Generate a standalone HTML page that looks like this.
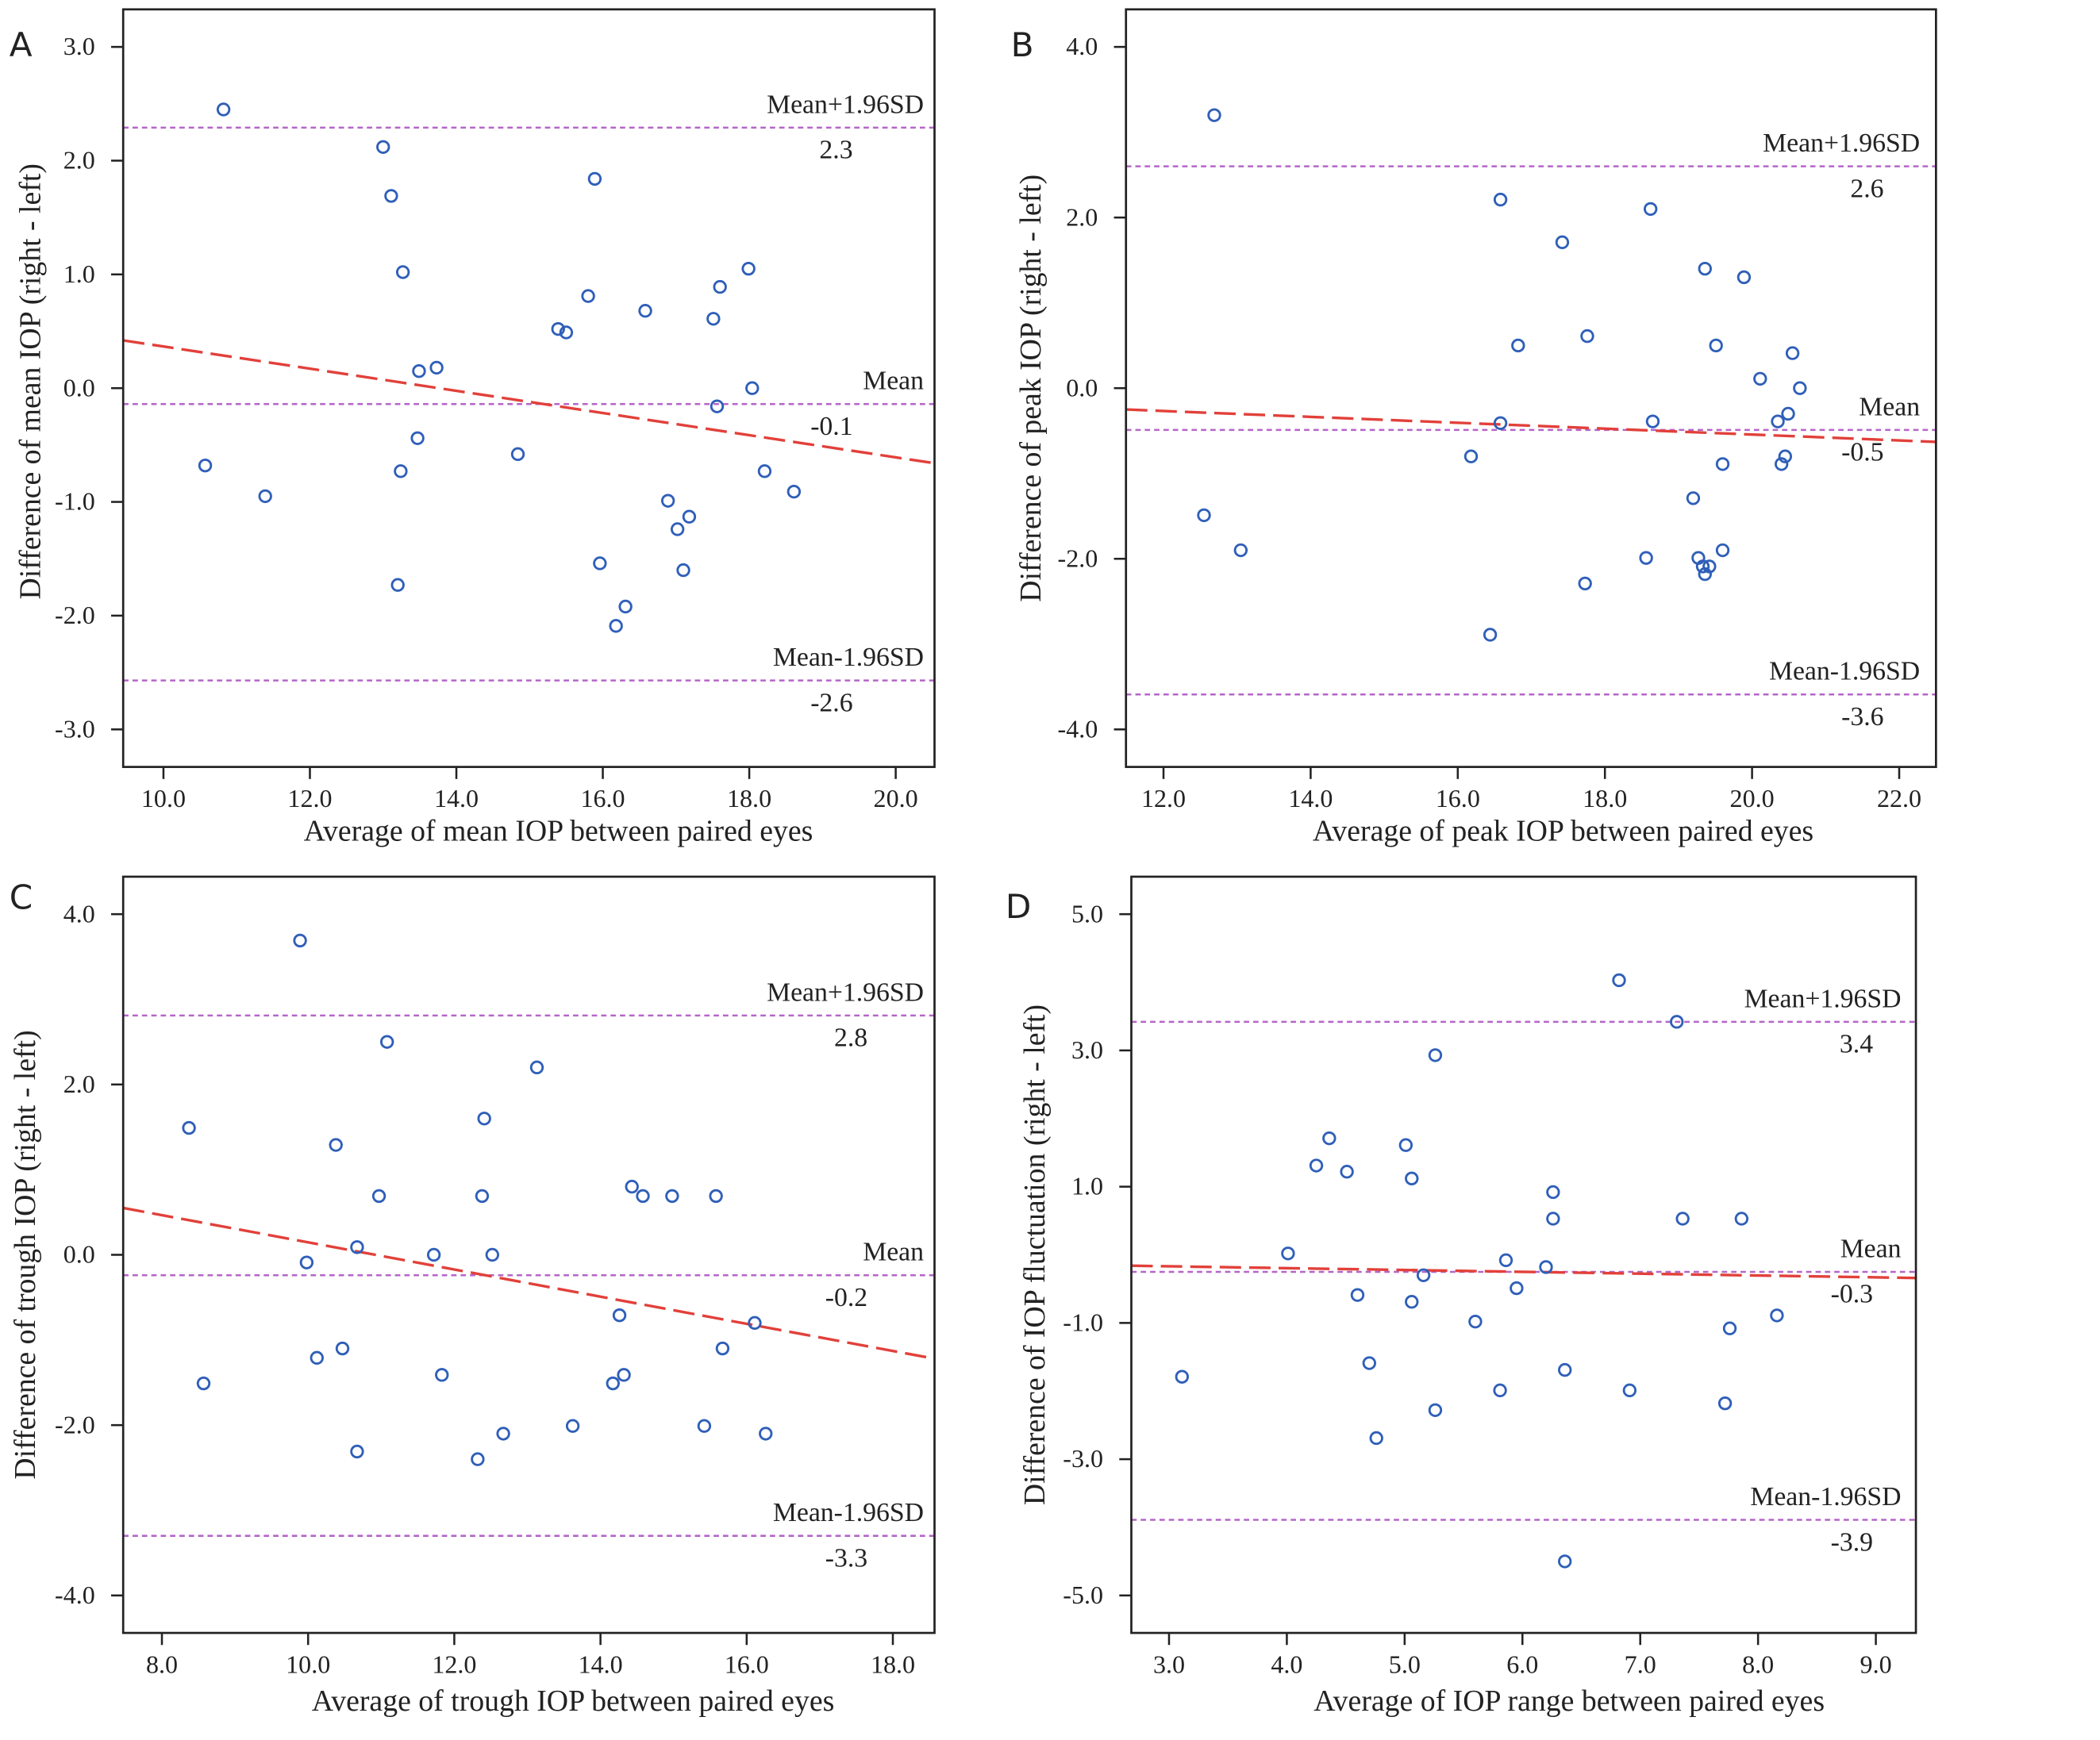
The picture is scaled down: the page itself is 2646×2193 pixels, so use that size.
<!DOCTYPE html>
<html><head><meta charset="utf-8"><style>
html,body{margin:0;padding:0;background:#fff;}
svg{display:block;}
text{font-family:"Liberation Serif",serif;fill:#222;}
text.letter{font-family:"DejaVu Sans","Liberation Sans",sans-serif;}
</style></head><body>
<svg id="chart" xmlns="http://www.w3.org/2000/svg" width="2646" height="2193" viewBox="0 0 1568.5 1300" preserveAspectRatio="none"></svg>
<script>
// Panel A data
const aX = [10.82,13.0,13.11,13.27,13.49,13.73,13.47,13.24,13.2,10.57,11.39,14.84,15.39,15.5,15.8,15.89,16.58,15.96,16.18,16.31,16.89,17.02,17.18,17.1,17.51,17.6,17.56,17.99,18.04,18.21,18.61];
const aY = [2.45,2.12,1.69,1.02,0.15,0.18,-0.44,-0.73,-1.73,-0.68,-0.95,-0.58,0.52,0.49,0.81,1.84,0.68,-1.54,-2.09,-1.92,-0.99,-1.24,-1.13,-1.6,0.61,0.89,-0.16,1.05,0.0,-0.73,-0.91];
const aLimits = [2.29,-0.14,-2.57];
const aLimitLabels = ["2.3","-0.1","-2.6"];
const aReg = [0.42,-0.66];
const aXTicks = [10,12,14,16,18,20];
const aYTicks = [3,2,1,0,-1,-2,-3];
// Panel B data
const bX = [12.69,12.55,13.05,16.44,16.18,16.58,16.58,16.82,17.42,17.76,17.73,18.62,18.65,18.56,19.36,19.2,19.27,19.33,19.36,19.42,19.51,19.6,19.6,19.89,20.11,20.35,20.4,20.45,20.49,20.55,20.65];
const bY = [3.2,-1.49,-1.9,-2.89,-0.8,2.21,-0.41,0.5,1.71,0.61,-2.29,2.1,-0.39,-1.99,1.4,-1.29,-1.99,-2.09,-2.18,-2.09,0.5,-0.89,-1.9,1.3,0.11,-0.39,-0.89,-0.8,-0.3,0.41,0.0];
const bLimits = [2.6,-0.49,-3.59];
const bLimitLabels = ["2.6","-0.5","-3.6"];
const bReg = [-0.25,-0.63];
const bXTicks = [12,14,16,18,20,22];
const bYTicks = [4,2,0,-2,-4];
// Panel C data
const cX = [9.89,8.37,8.57,9.98,10.12,10.38,10.47,10.67,10.67,10.97,11.08,11.72,11.83,12.38,12.41,12.32,12.52,12.67,13.13,13.62,14.17,14.26,14.32,14.43,14.58,14.98,15.42,15.58,15.67,16.11,16.26];
const cY = [3.69,1.49,-1.51,-0.09,-1.21,1.29,-1.1,0.09,-2.31,0.69,2.5,0,-1.41,0.69,1.6,-2.4,0,-2.1,2.2,-2.01,-1.51,-0.71,-1.41,0.8,0.69,0.69,-2.01,0.69,-1.1,-0.8,-2.1];
const cLimits = [2.81,-0.24,-3.3];
const cLimitLabels = ["2.8","-0.2","-3.3"];
const cReg = [0.55,-1.22];
const cXTicks = [8,10,12,14,16,18];
const cYTicks = [4,2,0,-2,-4];
// Panel D data
const dX = [3.11,4.01,4.25,4.36,4.51,4.6,4.7,4.76,5.01,5.06,5.06,5.16,5.26,5.26,5.6,5.86,5.81,5.95,6.2,6.26,6.26,6.36,6.36,6.82,6.91,7.31,7.36,7.72,7.76,7.86,8.16];
const dY = [-1.79,0.02,1.31,1.71,1.22,-0.59,-1.59,-2.69,1.61,1.12,-0.69,-0.3,2.93,-2.28,-0.98,-0.08,-1.99,-0.49,-0.18,0.92,0.53,-1.69,-4.5,4.03,-1.99,3.42,0.53,-2.18,-1.08,0.53,-0.89];
const dLimits = [3.42,-0.25,-3.89];
const dLimitLabels = ["3.4","-0.3","-3.9"];
const dReg = [-0.16,-0.34];
const dXTicks = [3,4,5,6,7,8,9];
const dYTicks = [5,3,1,-1,-3,-5];

const NS="http://www.w3.org/2000/svg";
const svg=document.getElementById('chart');
function mk(tag,attrs,parent){const e=document.createElementNS(NS,tag);for(const k in attrs)e.setAttribute(k,attrs[k]);(parent||svg).appendChild(e);return e;}

const panels=[
 {key:'a',letter:'A',lx:7,ly:42,box:[92,7,698,573],xd:[9.45,20.53],yd:[3.33,-3.33],xs:aX,ys:aY,lim:aLimits,limL:aLimitLabels,reg:aReg,xt:aXTicks,yt:aYTicks,yTitle:'Difference of mean IOP (right - left)',xTitle:'Average of mean IOP between paired eyes',ytx:30,ytyOff:-5,xtxOff:22,xtY:628,labR:690,valR:637},
 {key:'b',letter:'B',lx:755,ly:42,box:[841,7,1446,573],xd:[11.49,22.5],yd:[4.44,-4.44],xs:bX,ys:bY,lim:bLimits,limL:bLimitLabels,reg:bReg,xt:bXTicks,yt:bYTicks,yTitle:'Difference of peak IOP (right - left)',xTitle:'Average of peak IOP between paired eyes',ytx:777,ytyOff:0,xtxOff:24,xtY:628,labR:1434,valR:1407},
 {key:'c',letter:'C',lx:7,ly:679,box:[92,655,698,1220],xd:[7.47,18.57],yd:[4.44,-4.44],xs:cX,ys:cY,lim:cLimits,limL:cLimitLabels,reg:cReg,xt:cXTicks,yt:cYTicks,yTitle:'Difference of trough IOP (right - left)',xTitle:'Average of trough IOP between paired eyes',ytx:26,ytyOff:0,xtxOff:33,xtY:1278,labR:690,valR:648},
 {key:'d',letter:'D',lx:751,ly:686,box:[845,655,1431,1220],xd:[2.68,9.34],yd:[5.55,-5.55],xs:dX,ys:dY,lim:dLimits,limL:dLimitLabels,reg:dReg,xt:dXTicks,yt:dYTicks,yTitle:'Difference of IOP fluctuation (right - left)',xTitle:'Average of IOP range between paired eyes',ytx:780,ytyOff:0,xtxOff:34,xtY:1278,labR:1420,valR:1399}
];

panels.forEach(p=>{
  const [x0,y0,x1,y1]=p.box;
  const sx=v=>x0+(v-p.xd[0])/(p.xd[1]-p.xd[0])*(x1-x0);
  const sy=v=>y0+(v-p.yd[0])/(p.yd[1]-p.yd[0])*(y1-y0);
  const g=mk('g',{});
  
  
  const lt=mk('text',{x:p.lx,y:p.ly,'font-size':25,'class':'letter'},g);
  lt.textContent=p.letter;
  
  
  const names=['upper-limit','mean','lower-limit'];
  const labs=['Mean+1.96SD','Mean','Mean-1.96SD'];
  p.lim.forEach((v,i)=>{
    const y=sy(v);
    const l=mk('line',{x1:x0,x2:x1,y1:y,y2:y,stroke:'#b565c8','stroke-width':1.5,'stroke-dasharray':'4,3'},g);
    
    
    const t=mk('text',{x:p.labR,y:y-11,'font-size':20,'text-anchor':'end'},g);
    t.textContent=labs[i];
    
    
    const t2=mk('text',{x:p.valR,y:y+23,'font-size':20,'text-anchor':'end'},g);
    t2.textContent=p.limL[i];
    
    
  });
  const r=mk('line',{x1:x0,y1:sy(p.reg[0]),x2:x1,y2:sy(p.reg[1]),stroke:'#e2403a','stroke-width':2,'stroke-dasharray':'16,6'},g);
  
  
  p.xs.forEach((xv,i)=>{
    const c=mk('circle',{cx:sx(xv),cy:sy(p.ys[i]),r:4.3,fill:'none',stroke:'#2f5fb8','stroke-width':1.7},g);
    
    
  });
  const fr=mk('rect',{x:x0,y:y0,width:x1-x0,height:y1-y0,fill:'none',stroke:'#222','stroke-width':1.6},g);
  
  
  p.yt.forEach(v=>{
    const y=sy(v);
    mk('line',{x1:x0-9,x2:x0,y1:y,y2:y,stroke:'#222','stroke-width':1.5},g);
    const t=mk('text',{x:x0-21,y:y+6,'font-size':19,'text-anchor':'end'},g);
    t.textContent=v.toFixed(1);
    
    
  });
  p.xt.forEach(v=>{
    const x=sx(v);
    mk('line',{x1:x,x2:x,y1:y1,y2:y1+9,stroke:'#222','stroke-width':1.5},g);
    const t=mk('text',{x:x,y:y1+30,'font-size':19,'text-anchor':'middle'},g);
    t.textContent=v.toFixed(1);
    
    
  });
  const cyMid=(y0+y1)/2+p.ytyOff;
  const yt=mk('text',{x:p.ytx,y:cyMid,'font-size':22.4,'text-anchor':'middle',transform:'rotate(-90 '+p.ytx+' '+cyMid+')'},g);
  yt.textContent=p.yTitle;
  
  
  const xt=mk('text',{x:(x0+x1)/2+p.xtxOff,y:p.xtY,'font-size':22.4,'text-anchor':'middle'},g);
  xt.textContent=p.xTitle;
  
  
});
</script>
</body></html>
